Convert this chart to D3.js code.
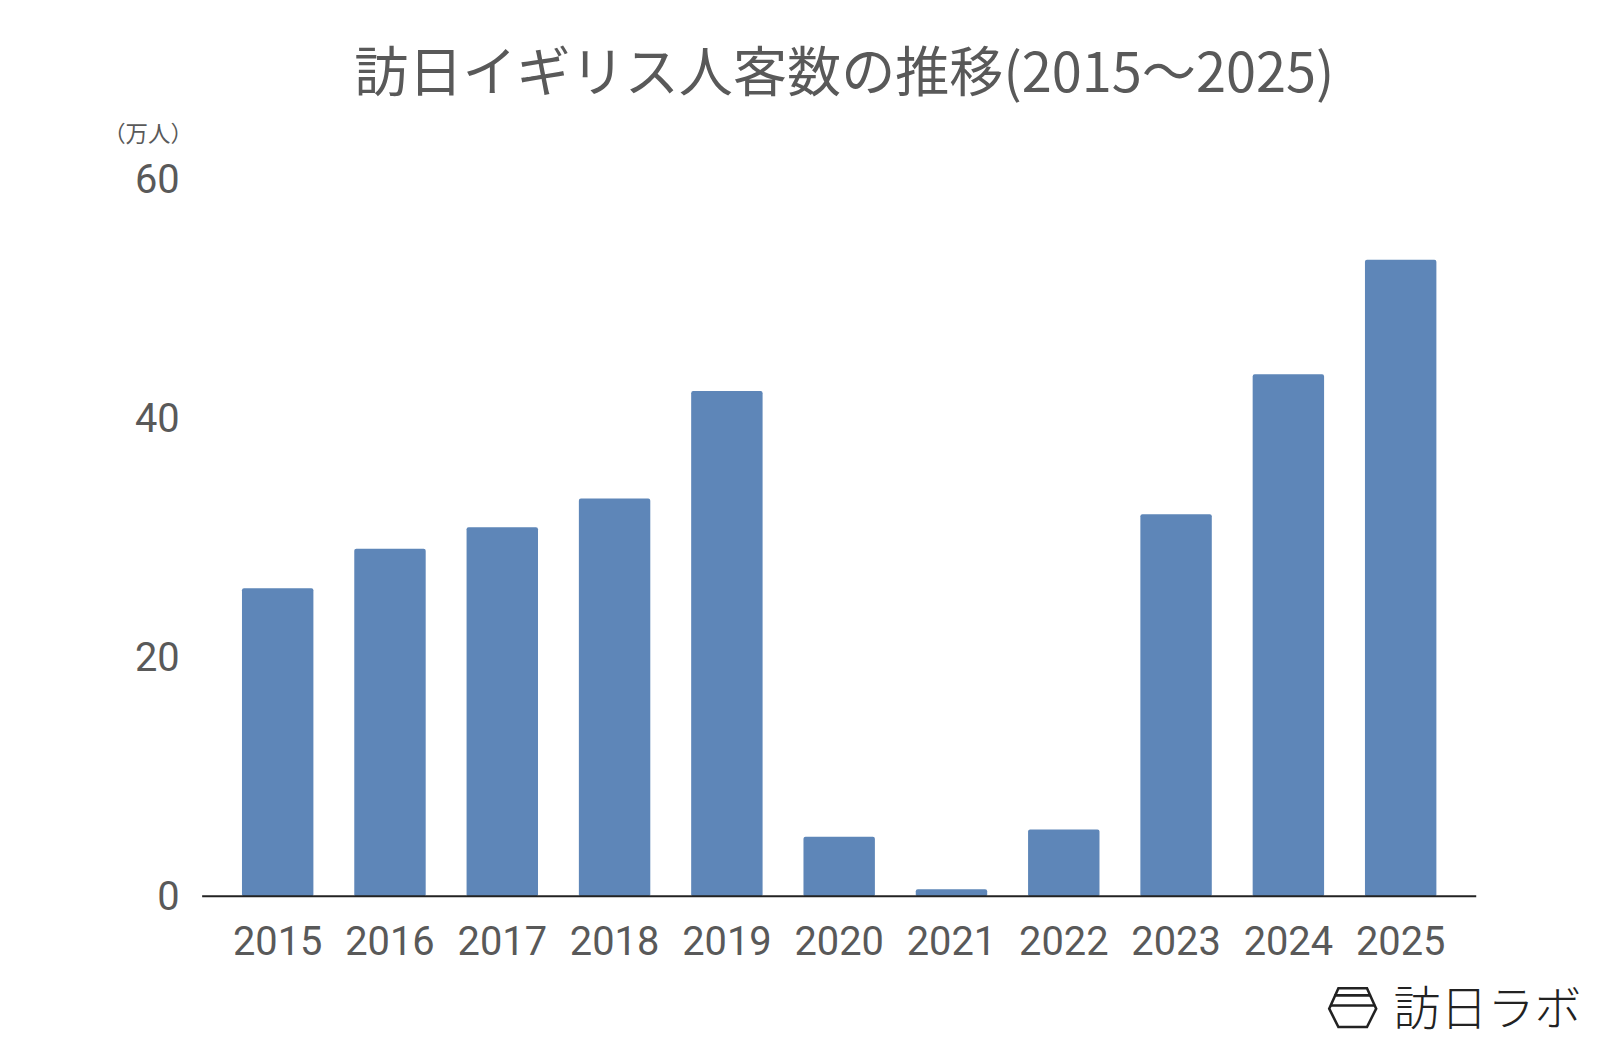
<!DOCTYPE html>
<html><head><meta charset="utf-8">
<script src="https://cdn.jsdelivr.net/npm/d3@7"></script>
<style>body{margin:0;background:#fff}</style></head>
<body><svg id="c" width="1600" height="1048"></svg>
<script>
const years=["2015","2016","2017","2018","2019","2020","2021","2022","2023","2024","2025"];
const visitors=[25.8,29.1,30.9,33.3,42.3,5.0,0.6,5.6,32.0,43.7,53.3];
const yTicks=[0,20,40,60];
const svg=d3.select("#c").append("g").attr("transform","scale(1.0209)");
const font="'Noto Sans CJK JP','Noto Sans',sans-serif";
const x=d3.scaleBand().domain(years).range([217,1427]).paddingInner(0.364).paddingOuter(0.182);
const y=d3.scaleLinear().domain([0,60]).range([878,176]);
svg.append("text").attr("x",827).attr("y",90).attr("text-anchor","middle").attr("font-family",font).attr("font-size",53).attr("font-weight",400).attr("fill","#595959").text("訪日イギリス人客数の推移(2015〜2025)");
svg.append("text").attr("x",145).attr("y",139).attr("text-anchor","middle").attr("font-family",font).attr("font-size",22).attr("fill","#595959").text("（万人）");
svg.selectAll("rect").data(visitors).join("rect").attr("x",(d,i)=>x(years[i])).attr("width",x.bandwidth()).attr("y",d=>y(d)).attr("height",d=>878-y(d)).attr("rx",2).attr("fill","#5e86b8");
const ya=svg.append("g").attr("transform","translate(176,0)").call(d3.axisLeft(y).tickValues(yTicks).tickSize(0).tickPadding(0));
ya.select(".domain").remove();
ya.selectAll("text").attr("font-family","Roboto,sans-serif").attr("font-size",39).attr("fill","#595959");
const xa=svg.append("g").attr("transform","translate(0,878)").call(d3.axisBottom(x).tickSize(0).tickPadding(30));
xa.select(".domain").remove();
xa.selectAll("text").attr("font-family","Roboto,sans-serif").attr("font-size",39).attr("fill","#595959");
svg.append("line").attr("x1",198).attr("x2",1446).attr("y1",878).attr("y2",878).attr("stroke","#222").attr("stroke-width",2);
const g=svg.append("g").attr("transform","translate(1303,988)").attr("fill","none").attr("stroke","#222").attr("stroke-width",2.5);
g.append("path").attr("d","M8,-20 L36,-20 L45,0 L36,18 L8,18 L-1,0 Z");
g.append("line").attr("x1",0).attr("x2",44).attr("y1",-3).attr("y2",-3);
g.append("line").attr("x1",4).attr("x2",40).attr("y1",-13).attr("y2",-13);
svg.append("text").attr("x",1365).attr("y",1004).attr("font-family",font).attr("font-size",46).attr("font-weight",300).attr("fill","#222").text("訪日ラボ");
</script></body></html>
